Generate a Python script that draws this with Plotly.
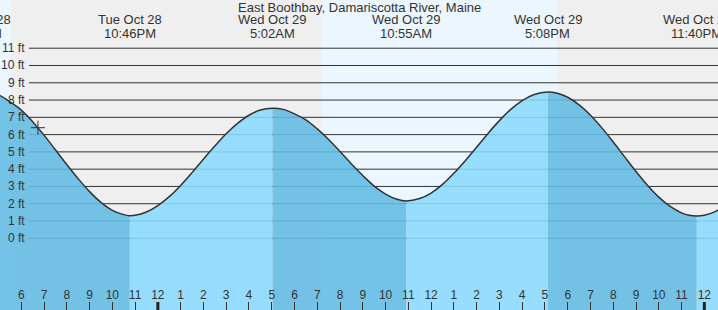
import plotly.graph_objects as go
import pandas as pd

# ---------------- data ----------------
title = "East Boothbay, Damariscotta River, Maine"

times = [
    "2025-10-28 16:30", "2025-10-28 17:00", "2025-10-28 17:30", "2025-10-28 18:00",
    "2025-10-28 18:30", "2025-10-28 19:00", "2025-10-28 19:30", "2025-10-28 20:00",
    "2025-10-28 20:30", "2025-10-28 21:00", "2025-10-28 21:30", "2025-10-28 22:00",
    "2025-10-28 22:30", "2025-10-28 22:46", "2025-10-28 23:00", "2025-10-28 23:30",
    "2025-10-29 00:00", "2025-10-29 00:30", "2025-10-29 01:00", "2025-10-29 01:30",
    "2025-10-29 02:00", "2025-10-29 02:30", "2025-10-29 03:00", "2025-10-29 03:30",
    "2025-10-29 04:00", "2025-10-29 04:30", "2025-10-29 05:02", "2025-10-29 05:30",
    "2025-10-29 06:00", "2025-10-29 06:30", "2025-10-29 07:00", "2025-10-29 07:30",
    "2025-10-29 08:00", "2025-10-29 08:30", "2025-10-29 09:00", "2025-10-29 09:30",
    "2025-10-29 10:00", "2025-10-29 10:30", "2025-10-29 10:55", "2025-10-29 11:30",
    "2025-10-29 12:00", "2025-10-29 12:30", "2025-10-29 13:00", "2025-10-29 13:30",
    "2025-10-29 14:00", "2025-10-29 14:30", "2025-10-29 15:00", "2025-10-29 15:30",
    "2025-10-29 16:00", "2025-10-29 16:30", "2025-10-29 17:08", "2025-10-29 17:30",
    "2025-10-29 18:00", "2025-10-29 18:30", "2025-10-29 19:00", "2025-10-29 19:30",
    "2025-10-29 20:00", "2025-10-29 20:30", "2025-10-29 21:00", "2025-10-29 21:30",
    "2025-10-29 22:00", "2025-10-29 22:30", "2025-10-29 23:00", "2025-10-29 23:20",
    "2025-10-29 23:40", "2025-10-30 00:00", "2025-10-30 00:30", "2025-10-30 01:00",
]
heights = [
    8.55, 8.31, 7.90, 7.42,
    6.75, 5.97, 5.12, 4.27,
    3.45, 2.70, 2.08, 1.62,
    1.37, 1.31, 1.33, 1.52,
    1.89, 2.41, 3.06, 3.80,
    4.58, 5.34, 6.05, 6.65,
    7.12, 7.42, 7.53, 7.46,
    7.20, 6.85, 6.33, 5.72,
    5.02, 4.30, 3.63, 3.02,
    2.56, 2.26, 2.16, 2.30,
    2.62, 3.12, 3.76, 4.49,
    5.27, 6.07, 6.81, 7.46,
    7.97, 8.31, 8.47, 8.41,
    8.16, 7.72, 7.12, 6.39,
    5.57, 4.71, 3.86, 3.07,
    2.38, 1.84, 1.47, 1.33,
    1.29, 1.33, 1.56, 1.98,
]

event_times = ["2025-10-28 16:09", "2025-10-28 22:46", "2025-10-29 05:02",
               "2025-10-29 10:55", "2025-10-29 17:08", "2025-10-29 23:40"]
event_day = ["Tue Oct 28", "Tue Oct 28", "Wed Oct 29", "Wed Oct 29", "Wed Oct 29", "Wed Oct 29"]
event_clock = ["4:09PM", "10:46PM", "5:02AM", "10:55AM", "5:08PM", "11:40PM"]

now_time = "2025-10-28 18:44"
now_height = 6.4

sun_times = ["2025-10-28 17:33", "2025-10-29 07:10", "2025-10-29 17:32"]
midnights = ["2025-10-29 00:00", "2025-10-30 00:00"]

y_ticks = list(range(0, 12))
x_range = ["2025-10-28 17:04", "2025-10-30 00:36"]
y_range = [-4.15, 13.79]

# ---------------- styles ----------------
W, H = 718, 310
NIGHT = "#efefef"
DAY = "#ebf6ff"
FALL = "rgba(98,188,229,0.88)"
RISE = "rgba(138,217,254,0.88)"
INK = "#333333"
FONT = "Liberation Sans, Arial, sans-serif"

r0, r1 = pd.Timestamp(x_range[0]), pd.Timestamp(x_range[1])


def to_paper(t):
    return (pd.Timestamp(t) - r0) / (r1 - r0)


fig = go.Figure()

# water bands split at tide extremes
split_idx = [0] + [times.index(t) for t in event_times if t in times] + [len(times) - 1]
for k in range(len(split_idx) - 1):
    a, b = split_idx[k], split_idx[k + 1]
    xs = times[a:b + 1]
    ys = heights[a:b + 1]
    falling = ys[-1] < ys[0]
    fig.add_trace(go.Scatter(x=[xs[0], xs[-1]], y=[y_range[0], y_range[0]],
                             mode="lines", line=dict(width=0), hoverinfo="skip",
                             showlegend=False))
    fig.add_trace(go.Scatter(x=xs, y=ys, mode="lines", fill="tonexty",
                             fillcolor=FALL if falling else RISE,
                             line=dict(width=0, shape="spline"), hoverinfo="skip",
                             showlegend=False))

# tide curve
fig.add_trace(go.Scatter(x=times, y=heights, mode="lines",
                         line=dict(color=INK, width=1.5, shape="spline"),
                         showlegend=False, hoverinfo="skip"))
# current marker
fig.add_trace(go.Scatter(x=[now_time], y=[now_height], mode="markers",
                         marker=dict(symbol="cross-thin", size=10,
                                     line=dict(color=INK, width=1)),
                         showlegend=False))

shapes = []
# day / night background
bounds = [x_range[0]] + sun_times + ["2025-10-30 02:00"]
for i in range(len(bounds) - 1):
    shapes.append(dict(type="rect", xref="x", yref="paper", x0=bounds[i], x1=bounds[i + 1],
                       y0=0, y1=1, fillcolor=DAY if i % 2 == 0 else NIGHT,
                       line=dict(width=0), layer="below"))
# grid lines
for v in y_ticks:
    shapes.append(dict(type="line", xref="paper", yref="y", x0=29 / W, x1=1, y0=v, y1=v,
                       line=dict(color=INK, width=1), layer="below"))
# midnight ticks
for m in midnights:
    shapes.append(dict(type="line", xref="x", yref="paper", x0=m, x1=m, y0=0, y1=8 / H,
                       line=dict(color="#222222", width=3)))

annotations = []
for v in y_ticks:
    annotations.append(dict(text=f"{v} ft", xref="paper", yref="y", x=27 / W, y=v,
                            xanchor="right", yanchor="middle", showarrow=False,
                            font=dict(size=12, color=INK, family=FONT)))
annotations.append(dict(text=title, xref="paper", yref="paper", x=0.5, y=1 - 8 / H,
                        xanchor="center", yanchor="middle", showarrow=False,
                        font=dict(size=13, color=INK, family=FONT)))
for t, d, c in zip(event_times, event_day, event_clock):
    px = to_paper(t)
    annotations.append(dict(text=d, xref="paper", yref="paper", x=px, y=1 - 20 / H,
                            xanchor="center", yanchor="middle", showarrow=False,
                            font=dict(size=13, color=INK, family=FONT)))
    annotations.append(dict(text=c, xref="paper", yref="paper", x=px, y=1 - 33 / H,
                            xanchor="center", yanchor="middle", showarrow=False,
                            font=dict(size=13, color=INK, family=FONT)))

fig.update_layout(
    width=W, height=H, margin=dict(l=0, r=0, t=0, b=0),
    paper_bgcolor="white", plot_bgcolor=NIGHT,
    shapes=shapes, annotations=annotations, showlegend=False,
    xaxis=dict(type="date", range=x_range, showgrid=False, zeroline=False, showline=False,
               ticks="inside", ticklen=8, tickcolor=INK, tickwidth=1,
               dtick=3600000, tick0="2025-10-29 00:00", tickformat="%-I",
               ticklabelposition="inside", tickfont=dict(size=12, color=INK, family=FONT)),
    yaxis=dict(range=y_range, visible=False, fixedrange=True),
)

fig.write_html("out.html")
